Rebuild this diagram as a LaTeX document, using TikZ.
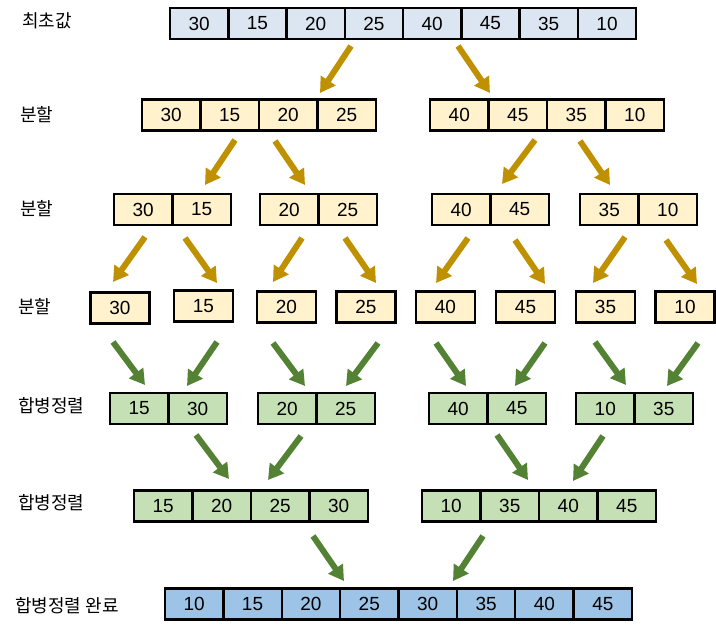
\documentclass[tikz,border=0pt]{standalone}
\usepackage{fontspec}
\setmainfont{Liberation Sans}
\newfontfamily\krfont{Noto Sans CJK KR}
\usetikzlibrary{arrows.meta}
\definecolor{initblue}{HTML}{DCE6F2}
\definecolor{splityel}{HTML}{FFF2CC}
\definecolor{mergegrn}{HTML}{C5E0B4}
\definecolor{finblue}{HTML}{9DC3E6}
\definecolor{goldarr}{HTML}{BF9000}
\definecolor{grnarr}{HTML}{548235}
\tikzset{
  cell/.style={draw=black, line width=2.4pt, minimum width=58.5pt, minimum height=31pt, inner sep=0pt, font=\fontsize{19}{19}\selectfont},
  rowlabel/.style={anchor=west, inner sep=0pt, font=\krfont\fontsize{18}{18}\selectfont},
  goldarrow/.style={draw=goldarr, line width=6pt, -{Triangle[length=15pt,width=17pt]}},
  grnarrow/.style={draw=grnarr, line width=6pt, -{Triangle[length=15pt,width=17pt]}}
}
\begin{document}
\begin{tikzpicture}[x=1pt,y=-1pt]
\useasboundingbox (0,0) rectangle (716,631);
% labels
\node[rowlabel] (l1) at (22,21) {최초값};
\node[rowlabel] (l2) at (20,115) {분할};
\node[rowlabel] (l3) at (20,209) {분할};
\node[rowlabel] (l4) at (18,307) {분할};
\node[rowlabel] (l5) at (18,406) {합병정렬};
\node[rowlabel] (l6) at (18,503) {합병정렬};
\node[rowlabel] (l7) at (15,606) {합병정렬 완료};
% row 1
\foreach \v [count=\i from 0] in {30,15,20,25,40,45,35,10}
  \node[cell, fill=initblue, minimum width=58.25pt] (a\i) at (199.25+58.25*\i,23.5) {\v};
% row 2
\foreach \v [count=\i from 0] in {30,15,20,25}
  \node[cell, fill=splityel] (bL\i) at (171.25+58.5*\i,115) {\v};
\foreach \v [count=\i from 0] in {40,45,35,10}
  \node[cell, fill=splityel] (bR\i) at (459.25+58.5*\i,115) {\v};
% row 3
\foreach \xl/\va/\vb [count=\k] in {114/30/15,260/20/25,432/40/45,580/35/10}{
  \node[cell, fill=splityel] (c\k a) at (\xl+29.25,209.5) {\va};
  \node[cell, fill=splityel] (c\k b) at (\xl+87.75,209.5) {\vb};
}
% row 4
\foreach \cx/\cy/\v [count=\k] in {120/308/30,203.5/306/15,286.5/307/20,366/307/25,445.5/307/40,525.5/307/45,605.5/307/35,685/307/10}
  \node[cell, fill=splityel, minimum width=59pt] (d\k) at (\cx,\cy) {\v};
% row 5
\foreach \xl/\va/\vb [count=\k] in {110/15/30,258/20/25,429/40/45,576/10/35}{
  \node[cell, fill=mergegrn] (e\k a) at (\xl+29.25,408.5) {\va};
  \node[cell, fill=mergegrn] (e\k b) at (\xl+87.75,408.5) {\vb};
}
% row 6
\foreach \v [count=\i from 0] in {15,20,25,30}
  \node[cell, fill=mergegrn] (fL\i) at (163.25+58.5*\i,506) {\v};
\foreach \v [count=\i from 0] in {10,35,40,45}
  \node[cell, fill=mergegrn] (fR\i) at (451.25+58.5*\i,506) {\v};
% row 7
\foreach \v [count=\i from 0] in {10,15,20,25,30,35,40,45}
  \node[cell, fill=finblue, minimum width=58.375pt] (g\i) at (194.19+58.375*\i,604) {\v};
% gold arrows
\foreach \sx/\sy/\ex/\ey [count=\i] in {
  351/46/320/93, 458/46/490/93,
  235/140/205/185, 275/141/305/185, 535/140/502/184, 580/141/610/185,
  145/237/113/282, 185/238/217/283, 302/238/273/282, 345/238/376/283,
  468/238/436/283, 515/240/545/284, 625/237/593/283, 666/240/697/284}{
  \coordinate (ys\i) at (\sx,\sy);
  \coordinate (ye\i) at (\ex,\ey);
  \draw[goldarrow] (ys\i) -- (ye\i);
}
% green arrows
\foreach \sx/\sy/\ex/\ey [count=\i] in {
  113/342/145/385, 217/342/187/386, 273/343/305/386, 378/343/346/386,
  436/343/466/386, 545/343/515/386, 595/342/626/385, 698/343/667/386,
  196/435/229/479, 301/436/268/480, 497/435/528/480, 603/436/573/481,
  313/536/344/581, 483/536/453/581}{
  \coordinate (gs\i) at (\sx,\sy);
  \coordinate (ge\i) at (\ex,\ey);
  \draw[grnarrow] (gs\i) -- (ge\i);
}
\end{tikzpicture}
\end{document}
